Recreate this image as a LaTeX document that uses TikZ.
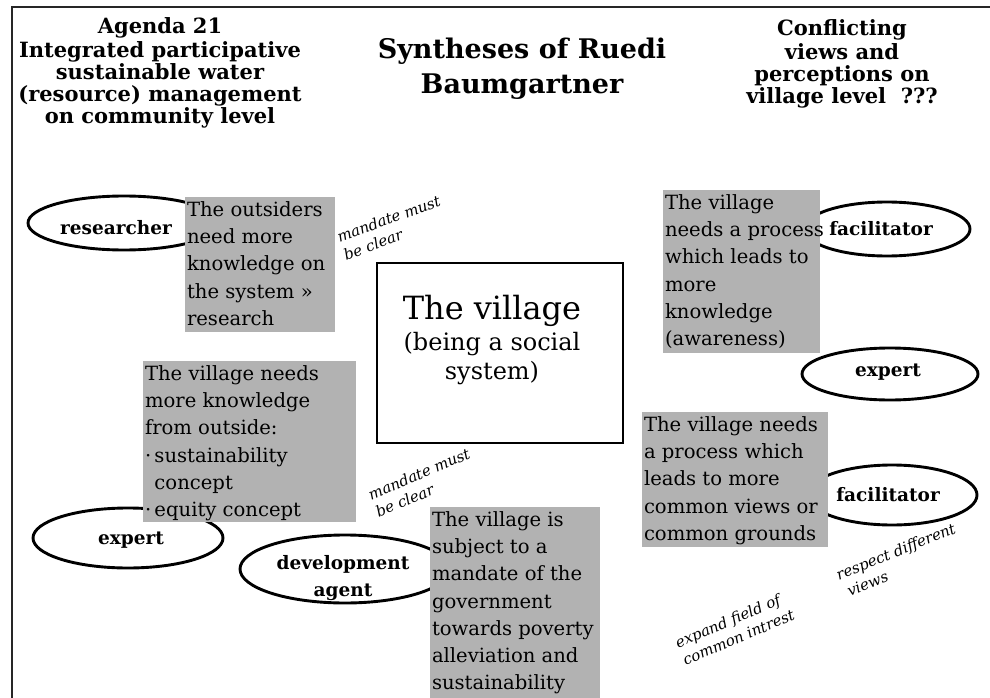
\documentclass[tikz,border=0pt]{standalone}
\usepackage{fontspec}
\setmainfont{DejaVu Serif}
\usetikzlibrary{shapes.geometric}
\begin{document}
\begin{tikzpicture}[x=1pt,y=-1pt,
  every node/.style={inner sep=0pt,outer sep=0pt},
  frame/.style={line width=1.4pt,black!85},
  role/.style={draw,ellipse,line width=2.9pt},
  rolelabel/.style={align=center,font=\bfseries\fontsize{18.5}{27}\selectfont},
  panel/.style={fill=black!30,anchor=north west},
  paneltext/.style={anchor=north west,align=left,
    font=\fontsize{19.6}{27.3}\selectfont},
  head/.style={anchor=north,align=center,font=\bfseries\fontsize{21}{22.2}\selectfont},
  bigtitle/.style={anchor=north,align=center,font=\bfseries\fontsize{27}{35}\selectfont},
  villagebox/.style={draw,line width=2pt,anchor=north west},
  note/.style={anchor=north west,align=left,font=\itshape\fontsize{15}{19}\selectfont}]

\useasboundingbox (0,0) rectangle (990,698);

% open frame: top and left edges only
\coordinate (ftr) at (989.5,7);
\coordinate (ftl) at (12,7);
\coordinate (fbl) at (12,698);
\draw[frame] (ftr) -- (ftl) -- (fbl);

% headings
\node[head] (agenda) at (160,17.5) {\strut Agenda 21\\Integrated participative\\sustainable water\\(resource) management\\on community level};
\node[bigtitle] (title) at (522,34) {\strut Syntheses of Ruedi\\Baumgartner};
\node[head] (conflict) at (842,19.5) {\strut Conflicting\\views and\\perceptions on\\village level\ \ ???};

% actors: outlines first, the shaded statements cover parts of them
\node[role,minimum width=192pt,minimum height=54pt] (researcher) at (124,223) {};
\node[role,minimum width=166pt,minimum height=54pt] (facil1) at (887,229) {};
\node[role,minimum width=176pt,minimum height=52pt] (expert1) at (890,374) {};
\node[role,minimum width=170pt,minimum height=60pt] (facil2) at (892,495) {};
\node[role,minimum width=190pt,minimum height=60pt] (expert2) at (128,538) {};
\node[role,minimum width=210pt,minimum height=68pt] (devagent) at (345,569) {};

\node[rolelabel] (researcher-l) at (116,228) {researcher};
\node[rolelabel] (facil1-l) at (881,229) {facilitator};
\node[rolelabel] (expert1-l) at (888,372) {expert};
\node[rolelabel] (facil2-l) at (888,495) {facilitator};
\node[rolelabel] (expert2-l) at (131,540) {expert};
\node[rolelabel] (devagent-l) at (343,578) {development\\agent};

% shaded statements
\node[panel,minimum width=150pt,minimum height=135pt] (pA) at (185,197) {};
\node[paneltext] (tA) at ([xshift=2pt]pA.north west) {\strut The outsiders\\need more\\knowledge on\\the system »\\research};

\node[panel,minimum width=157pt,minimum height=163pt] (pB) at (663,190) {};
\node[paneltext] (tB) at ([xshift=2pt]pB.north west) {\strut The village\\needs a process\\which leads to\\more\\knowledge\\(awareness)};

\node[panel,minimum width=213pt,minimum height=161pt] (pC) at (143,361) {};
\node[paneltext] (tC) at ([xshift=2pt]pC.north west) {\strut The village needs\\more knowledge\\from outside:\\·\,sustainability\\\hphantom{·\,}concept\\·\,equity concept};

\node[panel,minimum width=170pt,minimum height=191pt] (pD) at (430,507) {};
\node[paneltext] (tD) at ([xshift=2pt]pD.north west) {\strut The village is\\subject to a\\mandate of the\\government\\towards poverty\\alleviation and\\sustainability};

\node[panel,minimum width=186pt,minimum height=135pt] (pE) at (642,412) {};
\node[paneltext] (tE) at ([xshift=2pt]pE.north west) {\strut The village needs\\a process which\\leads to more\\common views or\\common grounds};

% the village
\node[villagebox,minimum width=246pt,minimum height=180pt] (village) at (377,263) {};
\node[anchor=base,font=\fontsize{32}{36}\selectfont] (vt1) at (492,319) {The village};
\node[anchor=base,font=\fontsize{24}{28}\selectfont] (vt2) at (492,350) {(being a social};
\node[anchor=base,font=\fontsize{24}{28}\selectfont] (vt3) at (492,379) {system)};

% handwritten remarks
\node[note,rotate=20] (n1) at (335,230) {\strut mandate must\\be clear};
\node[note,rotate=23] (n2) at (366,488) {\strut mandate must\\be clear};
\node[note,rotate=22] (n3) at (834,568) {\strut respect different\\\hspace*{4pt}views};
\node[note,rotate=23] (n4) at (673,636) {\strut expand field of\\common intrest};
\end{tikzpicture}
\end{document}
